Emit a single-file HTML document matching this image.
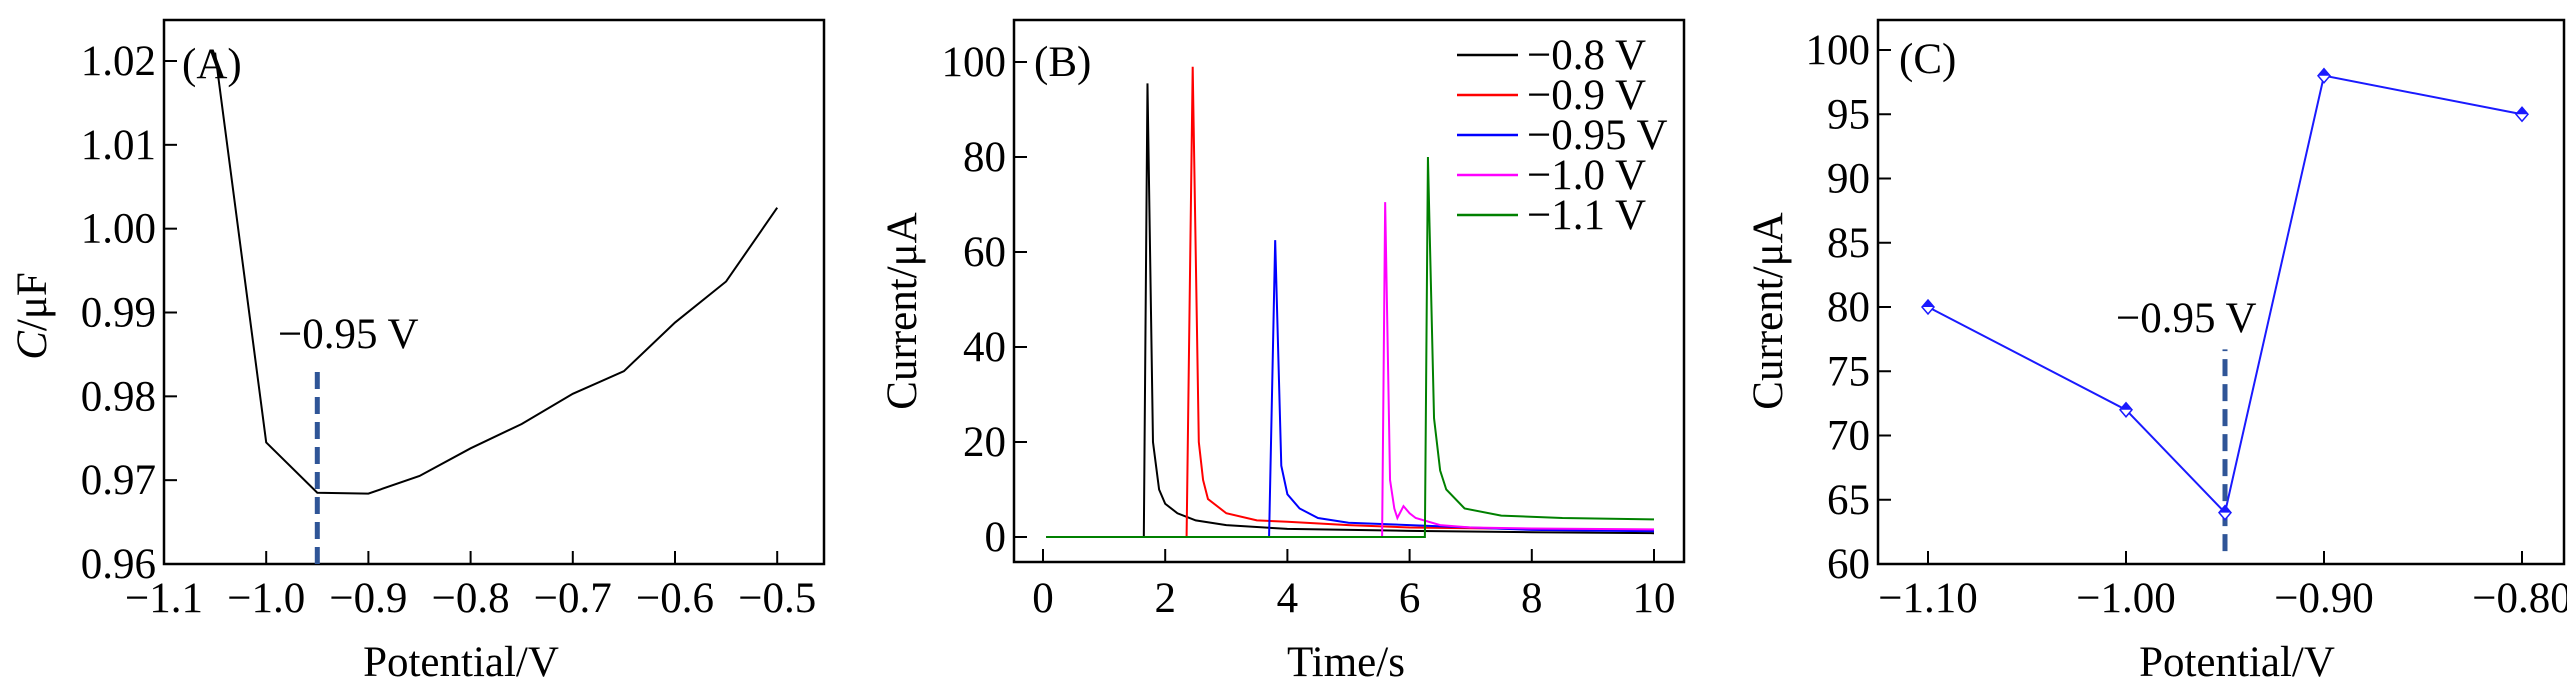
<!DOCTYPE html>
<html><head><meta charset="utf-8"><style>
html,body{margin:0;padding:0;background:#fff;}
svg{display:block;font-family:"Liberation Serif",serif;}
</style></head><body>
<svg id="fig" width="2567" height="692" viewBox="0 0 2567 692" xmlns="http://www.w3.org/2000/svg"></svg>
<script>
// Panel A data
const aPot=[-1.05,-1.0,-0.95,-0.9,-0.85,-0.8,-0.75,-0.7,-0.65,-0.6,-0.55,-0.5];
const aCap=[1.021,0.9745,0.9685,0.9684,0.9705,0.9738,0.9767,0.9803,0.983,0.9888,0.9937,1.0025];
const aXTicks=[-1.1,-1.0,-0.9,-0.8,-0.7,-0.6,-0.5];
const aXLabels=["\u22121.1","\u22121.0","\u22120.9","\u22120.8","\u22120.7","\u22120.6","\u22120.5"];
const aYTicks=[0.96,0.97,0.98,0.99,1.00,1.01,1.02];
const aYLabels=["0.96","0.97","0.98","0.99","1.00","1.01","1.02"];
// Panel B data
const bNames=["\u22120.8 V","\u22120.9 V","\u22120.95 V","\u22121.0 V","\u22121.1 V"];
const bColors=["#000000","#ff0000","#0000ff","#ff00ff","#008000"];
const bT0=[1.65,2.35,3.7,5.55,6.25];
const bDecayT=[
 [1.71,1.8,1.9,2.0,2.2,2.5,3.0,4.0,6.0,8.0,10],
 [2.45,2.55,2.62,2.7,3.0,3.5,4.0,5.0,6.0,8.0,10],
 [3.8,3.9,4.0,4.2,4.5,5.0,6.0,8.0,10],
 [5.6,5.68,5.75,5.8,5.9,6.0,6.1,6.5,7.0,8.0,10],
 [6.3,6.4,6.5,6.6,6.9,7.5,8.5,10]];
const bDecayI=[
 [95.5,20,10,7,5,3.5,2.5,1.7,1.3,1.0,0.8],
 [99,20,12,8,5,3.5,3.2,2.5,2.0,1.7,1.5],
 [62.5,15,9,6,4,3,2.5,1.5,1.2],
 [70.5,12,6,4,6.5,5,4,2.5,2.0,1.8,1.6],
 [80,25,14,10,6,4.5,4,3.7]];
const bXTicks=[0,2,4,6,8,10];
const bYTicks=[0,20,40,60,80,100];
// Panel C data
const cPot=[-1.1,-1.0,-0.95,-0.9,-0.8];
const cCur=[80,72,64,98,95];
const cXTicks=[-1.1,-1.0,-0.9,-0.8];
const cXLabels=["\u22121.10","\u22121.00","\u22120.90","\u22120.80"];
const cYTicks=[60,65,70,75,80,85,90,95,100];

const NS="http://www.w3.org/2000/svg";
const svg=document.getElementById('fig');
function mk(tag,attrs,parent,text){const e=document.createElementNS(NS,tag);for(const k in attrs)e.setAttribute(k,attrs[k]);if(text!==undefined)e.textContent=text;(parent||svg).appendChild(e);return e;}
const FS=43;

function axesFrame(g,x0,y0,x1,y1){
 const r=mk('rect',{x:x0,y:y0,width:x1-x0,height:y1-y0,fill:'none',stroke:'#000','stroke-width':2.5},g);
 
 
}

// ---------- Panel A ----------
(function(){
 const g=mk('g',{});
 
 
 const L=164,R=824,T=20,B=564;
 const X=v=>164+(v+1.1)*1022;
 const Y=v=>564-(v-0.96)*(503/0.06);
 axesFrame(g,L,T,R,B);
 aXTicks.forEach((v,i)=>{
  mk('line',{x1:X(v),y1:B,x2:X(v),y2:B-13,stroke:'#000','stroke-width':2},g);
  const t=mk('text',{x:X(v),y:612,'font-size':FS,'text-anchor':'middle'},g,aXLabels[i]);
  
  
 });
 aYTicks.forEach((v,i)=>{
  mk('line',{x1:L,y1:Y(v),x2:L+13,y2:Y(v),stroke:'#000','stroke-width':2},g);
  const t=mk('text',{x:156,y:Y(v)+14,'font-size':FS,'text-anchor':'end'},g,aYLabels[i]);
  
  
 });
 const p=mk('polyline',{points:aPot.map((v,i)=>X(v)+','+Y(aCap[i])).join(' '),fill:'none',stroke:'#000','stroke-width':2},g);
 
 
 const d=mk('line',{x1:X(-0.95),y1:Y(0.96),x2:X(-0.95),y2:Y(0.9838),stroke:'#2f5597','stroke-width':5,'stroke-dasharray':'17,8'},g);
 
 
 const a=mk('text',{x:278,y:348,'font-size':FS},g,'\u22120.95 V');
 
 
 const pl=mk('text',{x:182,y:78,'font-size':FS},g,'(A)');
 
 
 const yt=mk('text',{x:0,y:0,'font-size':FS,'text-anchor':'middle',transform:'translate(46,316) rotate(-90)'},g);
 mk('tspan',{'font-style':'italic'},yt,'C');
 mk('tspan',{},yt,'/\u03bcF');
 
 
 const xt=mk('text',{x:461,y:676,'font-size':FS,'text-anchor':'middle'},g,'Potential/V');
 
 
})();

// ---------- Panel B ----------
(function(){
 const g=mk('g',{});
 
 
 const L=1014,R=1684,T=20,B=562;
 const X=v=>1043+v*61.1;
 const Y=v=>537-v*4.75;
 axesFrame(g,L,T,R,B);
 bXTicks.forEach(v=>{
  mk('line',{x1:X(v),y1:B,x2:X(v),y2:B-13,stroke:'#000','stroke-width':2},g);
  const t=mk('text',{x:X(v),y:612,'font-size':FS,'text-anchor':'middle'},g,String(v));
  
  
 });
 bYTicks.forEach(v=>{
  mk('line',{x1:L,y1:Y(v),x2:L+13,y2:Y(v),stroke:'#000','stroke-width':2},g);
  const t=mk('text',{x:1006,y:Y(v)+14,'font-size':FS,'text-anchor':'end'},g,String(v));
  
  
 });
 bNames.forEach((n,s)=>{
  const pts=[[0.05,0],[bT0[s],0]];
  bDecayT[s].forEach((t,j)=>pts.push([t,bDecayI[s][j]]));
  const p=mk('polyline',{points:pts.map(q=>X(q[0])+','+Y(q[1])).join(' '),fill:'none',stroke:bColors[s],'stroke-width':2},g);
  
  
  const ly=69+s*40;
  const ll=mk('line',{x1:1457,y1:ly-14,x2:1518,y2:ly-14,stroke:bColors[s],'stroke-width':2.5},g);
  
  
  const lt=mk('text',{x:1527,y:ly,'font-size':FS},g,n);
  
  
 });
 const pl=mk('text',{x:1034,y:76,'font-size':FS},g,'(B)');
 
 
 const yt=mk('text',{x:0,y:0,'font-size':FS,'text-anchor':'middle',transform:'translate(916,311) rotate(-90)'},g,'Current/\u03bcA');
 
 
 const xt=mk('text',{x:1346,y:676,'font-size':FS,'text-anchor':'middle'},g,'Time/s');
 
 
})();

// ---------- Panel C ----------
(function(){
 const g=mk('g',{});
 
 
 const L=1878,R=2564,T=20,B=564;
 const X=v=>1928+(v+1.1)*1980;
 const Y=v=>564-(v-60)*12.85;
 axesFrame(g,L,T,R,B);
 cXTicks.forEach((v,i)=>{
  mk('line',{x1:X(v),y1:B,x2:X(v),y2:B-13,stroke:'#000','stroke-width':2},g);
  const t=mk('text',{x:X(v),y:612,'font-size':FS,'text-anchor':'middle'},g,cXLabels[i]);
  
  
 });
 cYTicks.forEach(v=>{
  mk('line',{x1:L,y1:Y(v),x2:L+13,y2:Y(v),stroke:'#000','stroke-width':2},g);
  const t=mk('text',{x:1870,y:Y(v)+14,'font-size':FS,'text-anchor':'end'},g,String(v));
  
  
 });
 const p=mk('polyline',{points:cPot.map((v,i)=>X(v)+','+Y(cCur[i])).join(' '),fill:'none',stroke:'#1a1aff','stroke-width':2},g);
 
 
 const d=mk('line',{x1:X(-0.95),y1:Y(61),x2:X(-0.95),y2:Y(76.7),stroke:'#2f5597','stroke-width':5,'stroke-dasharray':'17,8'},g);
 
 
 cPot.forEach((v,i)=>{
  const cx=X(v),cy=Y(cCur[i]);
  const m=mk('polygon',{points:`${cx},${cy-7} ${cx+6},${cy} ${cx},${cy+7} ${cx-6},${cy}`,fill:'#fff',stroke:'#1a1aff','stroke-width':1.5},g);
  
  
  mk('polygon',{points:`${cx},${cy-7} ${cx+6},${cy} ${cx-6},${cy}`,fill:'#1a1aff'},g);
 });
 const a=mk('text',{x:2116,y:332,'font-size':FS},g,'\u22120.95 V');
 
 
 const pl=mk('text',{x:1899,y:73,'font-size':FS},g,'(C)');
 
 
 const yt=mk('text',{x:0,y:0,'font-size':FS,'text-anchor':'middle',transform:'translate(1782,311) rotate(-90)'},g,'Current/\u03bcA');
 
 
 const xt=mk('text',{x:2237,y:676,'font-size':FS,'text-anchor':'middle'},g,'Potential/V');
 
 
})();
</script>
</body></html>
